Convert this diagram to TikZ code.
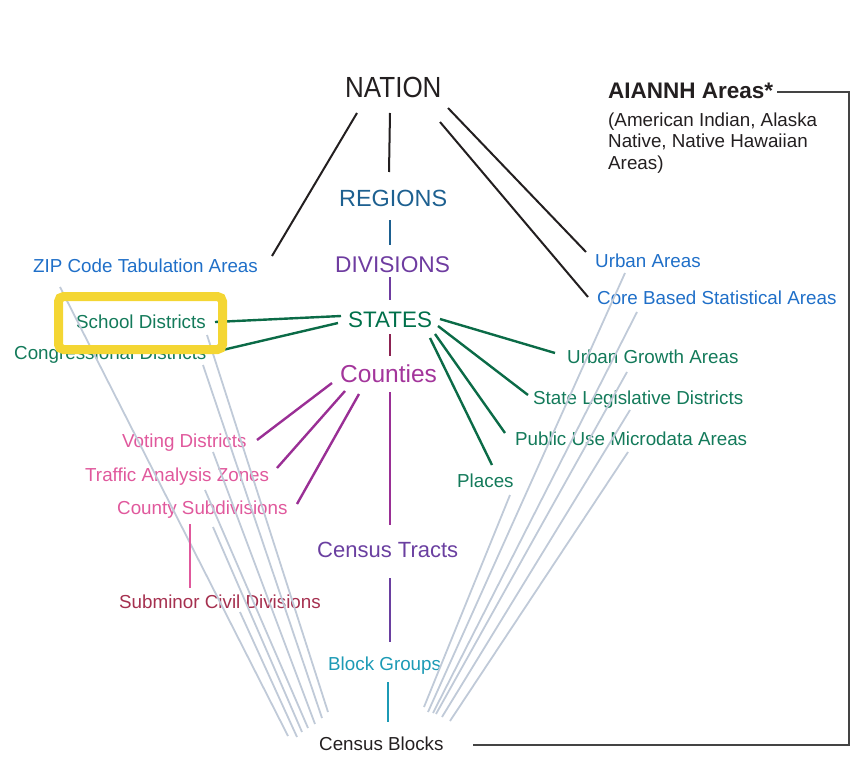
\documentclass[tikz,border=0pt]{standalone}
\usepackage{fontspec}
\usepackage{graphicx}
\setmainfont{Liberation Sans}
\definecolor{cNation}{HTML}{231F20}
\definecolor{cRegion}{HTML}{1D6090}
\definecolor{cDiv}{HTML}{6E3CA0}
\definecolor{cState}{HTML}{00704A}
\definecolor{cCounty}{HTML}{A3359B}
\definecolor{cBlue}{HTML}{1F6FC8}
\definecolor{cGreen}{HTML}{137A5A}
\definecolor{cPink}{HTML}{E0589C}
\definecolor{cSub}{HTML}{A5304F}
\definecolor{cTract}{HTML}{6A3FA0}
\definecolor{cBG}{HTML}{1C9AB5}
\definecolor{cGrey}{HTML}{C0CAD8}
\definecolor{cYellow}{HTML}{F4D633}
\definecolor{cSC}{HTML}{8C2252}
\definecolor{cGLine}{HTML}{0B6B47}
\definecolor{cCLine}{HTML}{9A2F95}
\definecolor{cBracket}{HTML}{444444}
\tikzset{
  lbl/.style={inner sep=0, anchor=base west, font=\fontsize{18.8}{22}\selectfont},
  blackline/.style={draw=cNation, line width=2},
  greyline/.style={draw=cGrey, line width=1.8},
  colline/.style={line width=2.4},
}
\begin{document}
\begin{tikzpicture}[x=1pt,y=-1pt]
\useasboundingbox (0,0) rectangle (865,765);

% ---------- text nodes ----------
\node[lbl, text=cNation, font=\fontsize{26}{26}\selectfont] (nation) at (345,98) {\scalebox{1}[1.12]{NATION}};
\node[lbl, text=cRegion, font=\fontsize{23.4}{24}\selectfont] (regions) at (339,207) {REGIONS};
\node[lbl, text=cDiv, font=\fontsize{22.7}{24}\selectfont] (divisions) at (335,272) {DIVISIONS};
\node[lbl, text=cState, font=\fontsize{22.4}{24}\selectfont] (states) at (348,327) {STATES};
\node[lbl, text=cCounty, font=\fontsize{24.5}{26}\selectfont] (counties) at (340,382) {Counties};
\node[lbl, text=cBlue] (zip) at (33,272) {ZIP Code Tabulation Areas};
\node[lbl, text=cGreen] (school) at (76,328) {School Districts};
\node[lbl, text=cGreen] (congress) at (14,359) {Congressional Districts};
\node[lbl, text=cPink] (voting) at (122,447) {Voting Districts};
\node[lbl, text=cPink] (traffic) at (85,481) {Traffic Analysis Zones};
\node[lbl, text=cPink] (cousub) at (117,514) {County Subdivisions};
\node[lbl, text=cSub] (subminor) at (119,608) {Subminor Civil Divisions};
\node[lbl, text=cTract, font=\fontsize{22}{24}\selectfont] (tracts) at (317,557) {Census Tracts};
\node[lbl, text=cBG] (bg) at (328,670) {Block Groups};
\node[lbl, text=cNation] (blocks) at (319,750) {Census Blocks};
\node[lbl, text=cGreen] (places) at (457,487) {Places};
\node[lbl, text=cGreen] (puma) at (515,445) {Public Use Microdata Areas};
\node[lbl, text=cGreen] (sld) at (533,404) {State Legislative Districts};
\node[lbl, text=cGreen] (uga) at (567,363) {Urban Growth Areas};
\node[lbl, text=cBlue] (ua) at (595,267) {Urban Areas};
\node[lbl, text=cBlue] (cbsa) at (597,304) {Core Based Statistical Areas};
\node[lbl, text=cNation, font=\fontsize{22.5}{24}\bfseries] (aiannh) at (608,99) {AIANNH Areas*};
\node[lbl, text=cNation] (ai1) at (608,127) {(American Indian, Alaska};
\node[lbl, text=cNation] (ai2) at (608,148) {Native, Native Hawaiian};
\node[lbl, text=cNation] (ai3) at (608,170) {Areas)};

% ---------- connector end points ----------
% grey lines to census blocks (left)
\coordinate (gA1) at (60,287);   \coordinate (gA2) at (288,736);
\coordinate (gB1) at (240,612);  \coordinate (gB2) at (297,737);
\coordinate (gC1) at (213,527);  \coordinate (gC2) at (302,732);
\coordinate (gD1) at (205,490);  \coordinate (gD2) at (308,728);
\coordinate (gE1) at (213,452);  \coordinate (gE2) at (315,724);
\coordinate (gF1) at (203,365);  \coordinate (gF2) at (322,718);
\coordinate (gG1) at (207,335);  \coordinate (gG2) at (328,712);
% grey lines to census blocks (right)
\coordinate (gH1) at (510,495);  \coordinate (gH2) at (424,707);
\coordinate (gI1) at (625,273);  \coordinate (gI2) at (428,712);
\coordinate (gJ1) at (637,312);  \coordinate (gJ2) at (433,713);
\coordinate (gK1) at (627,372);  \coordinate (gK2) at (436,714);
\coordinate (gL1) at (630,410);  \coordinate (gL2) at (442,717);
\coordinate (gM1) at (628,452);  \coordinate (gM2) at (450,721);

\foreach \g in {A,B,C,D,E,F,G,H,I,J,K,L,M}
  \draw[greyline] (g\g1) -- (g\g2);

% black lines from nation
\coordinate (nz) at (357,113); \coordinate (zn) at (272,256);
\coordinate (nr) at (390,113); \coordinate (rn) at (389,172);
\coordinate (nu) at (448,108); \coordinate (un) at (586,252);
\coordinate (nc) at (440,122); \coordinate (cn) at (588,297);
\draw[blackline] (nz) -- (zn);
\draw[blackline] (nr) -- (rn);
\draw[blackline] (nu) -- (un);
\draw[blackline] (nc) -- (cn);

% vertical spine
\coordinate (rd1) at (390,220); \coordinate (rd2) at (390,245);
\coordinate (ds1) at (390,277); \coordinate (ds2) at (390,300);
\coordinate (sc1) at (390,334); \coordinate (sc2) at (390,356);
\coordinate (ct1) at (390,392); \coordinate (ct2) at (390,525);
\coordinate (tb1) at (390,578); \coordinate (tb2) at (390,642);
\coordinate (bb1) at (388,682); \coordinate (bb2) at (388,722);
\draw[colline, cRegion] (rd1) -- (rd2);
\draw[colline, cDiv] (ds1) -- (ds2);
\draw[colline, cSC] (sc1) -- (sc2);
\draw[colline, cCLine] (ct1) -- (ct2);
\draw[colline, cTract] (tb1) -- (tb2);
\draw[colline, cBG] (bb1) -- (bb2);

% green lines from states
\coordinate (s1) at (341,316); \coordinate (sch) at (215,322);
\coordinate (s2) at (338,323); \coordinate (con) at (214,352);
\coordinate (s3) at (440,319); \coordinate (ug) at (555,353);
\coordinate (s4) at (438,326); \coordinate (sl) at (528,395);
\coordinate (s5) at (435,334); \coordinate (pu) at (505,433);
\coordinate (s6) at (430,338); \coordinate (pl) at (492,465);
\draw[colline, cGLine] (s1) -- (sch);
\draw[colline, cGLine] (s2) -- (con);
\draw[colline, cGLine] (s3) -- (ug);
\draw[colline, cGLine] (s4) -- (sl);
\draw[colline, cGLine] (s5) -- (pu);
\draw[colline, cGLine] (s6) -- (pl);

% purple lines from counties
\coordinate (c1) at (332,383); \coordinate (vo) at (257,440);
\coordinate (c2) at (345,391); \coordinate (tr) at (277,468);
\coordinate (c3) at (359,394); \coordinate (cs) at (297,504);
\draw[colline, cCLine] (c1) -- (vo);
\draw[colline, cCLine] (c2) -- (tr);
\draw[colline, cCLine] (c3) -- (cs);

% county subdivisions -> subminor
\coordinate (cs1) at (190,524); \coordinate (cs2) at (190,588);
\draw[colline, cPink] (cs1) -- (cs2);

% AIANNH bracket
\coordinate (ab1) at (777,92); \coordinate (ab2) at (849,92);
\coordinate (ab3) at (849,745); \coordinate (ab4) at (473,745);
\draw[draw=cBracket, line width=2] (ab1) -- (ab2) -- (ab3) -- (ab4);

% yellow highlight box (on top)
\node[draw=cYellow, line width=9, rounded corners=5, minimum width=164, minimum height=53, inner sep=0] (hl) at (140.5,323) {};
\end{tikzpicture}
\end{document}
